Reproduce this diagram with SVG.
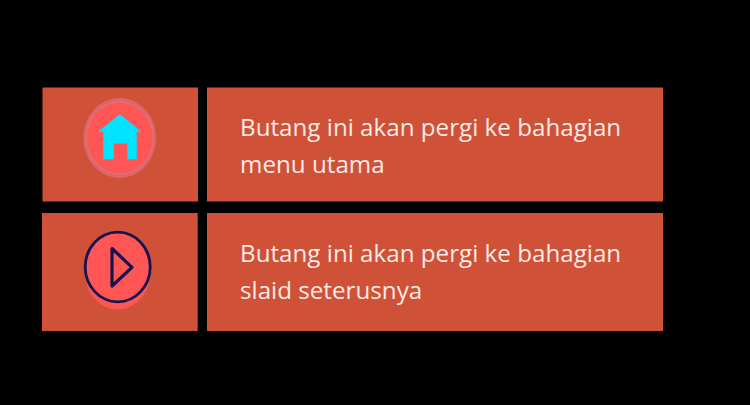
<svg xmlns="http://www.w3.org/2000/svg" width="750" height="405" viewBox="0 0 750 405">
<style>
.p{fill:#cf5138}
.t{font-family:"Open Sans","Noto Sans",sans-serif;font-size:24.2px;fill:#fbe9e4}
</style>
<rect width="750" height="405" fill="#000"/>
<g id="home-icon-panel">
<rect class="p" x="42.500" y="87.500" width="155.500" height="114"/>
<ellipse cx="119.700" cy="138" rx="36.500" ry="40" fill="#e0656a"/>
<ellipse cx="119.700" cy="138" rx="33.500" ry="36" fill="none" stroke="#ee7074" stroke-width="1"/>
<ellipse cx="119.700" cy="138" rx="32" ry="35" fill="#ff5555"/>
<path d="M120 114.300L141.300 131.700H136.700V159.300H127.300V143.500H114V159.300H103.300V131.700H97.700Z" fill="#00e5ff"/>
</g>
<g id="home-text-panel">
<rect class="p" x="207" y="87.500" width="456" height="114"/>
<text class="t" x="240" y="136">Butang ini akan pergi ke bahagian</text>
<text class="t" x="240" y="173">menu utama</text>
</g>
<g id="play-icon-panel">
<rect class="p" x="42" y="213" width="155.700" height="118"/>
<ellipse cx="117.700" cy="272" rx="33" ry="37.500" fill="#ff5555"/>
<ellipse cx="117.700" cy="267" rx="32.500" ry="34.800" fill="#ff5555" stroke="#14144f" stroke-width="2.800"/>
<path d="M112 248.500L132 267.300L112 286Z" fill="none" stroke="#14144f" stroke-width="3.200" stroke-linejoin="round"/>
</g>
<g id="play-text-panel">
<rect class="p" x="207" y="213" width="456" height="118"/>
<text class="t" x="240" y="262">Butang ini akan pergi ke bahagian</text>
<text class="t" x="240" y="299">slaid seterusnya</text>
</g>
</svg>
